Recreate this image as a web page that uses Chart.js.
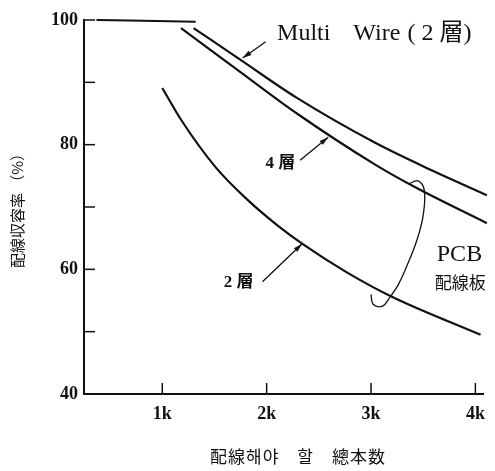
<!DOCTYPE html>
<html>
<head>
<meta charset="utf-8">
<script src="https://cdn.jsdelivr.net/npm/chart.js@4.4.1/dist/chart.umd.min.js"></script>
<style>
  body { margin: 0; background: #fff; }
</style>
</head>
<body>
<canvas id="c" width="495" height="471"></canvas>
<script>
// axis ticks (x in thousands of wires)
const xTicks = [1, 2, 3, 4];
const yTicks = [40, 50, 60, 70, 80, 90, 100];
const yTickLabels = ["40", "", "60", "", "80", "", "100"];

// flat 100% part
const flatX = [0.37, 1.32];
const flatY = [100, 99.7];
// Multi Wire (2層)
const multiX = [1.30, 1.75, 2.29, 3.04, 3.58, 4.11];
const multiY = [98.7, 93.6, 87.5, 80.3, 75.9, 71.9];
// PCB 4層
const l4X = [1.18, 1.72, 2.29, 3.04, 3.42, 4.11];
const l4Y = [98.7, 92.0, 85.0, 76.8, 73.2, 67.4];
// PCB 2層
const l2X = [1.00, 1.18, 1.51, 1.82, 2.10, 2.35, 2.76, 3.20, 4.05];
const l2Y = [89.1, 84.0, 76.4, 71.1, 67.1, 64.0, 59.6, 55.6, 49.5];
// bracket that groups the two PCB curves
const pcbX = [3.36, 3.45, 3.51, 3.50, 3.44, 3.34, 3.26, 3.18, 3.11, 3.02, 3.00];
const pcbY = [73.7, 74.2, 72.7, 68.7, 64.7, 60.4, 57.5, 55.5, 54.1, 54.4, 56.0];

// leader arrows: [fromX, fromY, toX, toY]
const arrowMulti = [1.99, 96.5, 1.77, 93.9];
const arrow4 = [2.32, 77.5, 2.59, 81.2];
const arrow2 = [1.96, 58.0, 2.34, 64.1];

const ink = "#111";
const serif = '"Liberation Serif", "Noto Sans CJK JP", serif';
const cjk = '"Noto Sans CJK JP", sans-serif';

const notes = [
  { text: "Multi", x: 2.10, y: 97.8, font: "24px " + serif },
  { text: "Wire", x: 2.83, y: 97.8, font: "24px " + serif },
  { text: "( 2 層)", x: 3.35, y: 97.8, font: "24px " + serif },
  { text: "4 層", x: 1.99, y: 77.0, font: "bold 17px " + serif },
  { text: "2 層", x: 1.59, y: 57.9, font: "bold 17px " + serif },
  { text: "PCB", x: 3.63, y: 62.3, font: "24px " + serif },
  { text: "配線板", x: 3.61, y: 57.8, font: "17px " + cjk }
];

function line(xs, ys, w, mode) {
  return {
    data: xs.map((x, i) => ({ x: x, y: ys[i] })),
    showLine: true,
    borderColor: ink,
    borderWidth: w,
    pointRadius: 0,
    fill: false,
    clip: false,
    tension: 0.4,
    cubicInterpolationMode: mode || "monotone"
  };
}

function arrowSet(a) {
  return line([a[0], a[2]], [a[1], a[3]], 1.3, "default");
}

const extras = {
  id: "extras",
  afterDraw(chart) {
    const ctx = chart.ctx, xs = chart.scales.x, ys = chart.scales.y;
    const area = chart.chartArea;
    ctx.save();
    ctx.strokeStyle = ink;
    ctx.fillStyle = ink;
    // inward tick marks
    ctx.lineWidth = 1.5;
    yTicks.forEach(v => {
      if (v === ys.min) return;
      const py = ys.getPixelForValue(v);
      ctx.beginPath();
      ctx.moveTo(area.left, py);
      ctx.lineTo(area.left + 11, py);
      ctx.stroke();
    });
    xTicks.forEach(v => {
      const px = xs.getPixelForValue(v);
      ctx.beginPath();
      ctx.moveTo(px, area.bottom);
      ctx.lineTo(px, area.bottom - 11);
      ctx.stroke();
    });
    // arrow heads
    [arrowMulti, arrow4, arrow2].forEach(a => {
      const x0 = xs.getPixelForValue(a[0]), y0 = ys.getPixelForValue(a[1]);
      const x1 = xs.getPixelForValue(a[2]), y1 = ys.getPixelForValue(a[3]);
      const ang = Math.atan2(y1 - y0, x1 - x0);
      ctx.beginPath();
      ctx.moveTo(x1, y1);
      ctx.lineTo(x1 - 9 * Math.cos(ang) + 2.5 * Math.sin(ang), y1 - 9 * Math.sin(ang) - 2.5 * Math.cos(ang));
      ctx.lineTo(x1 - 9 * Math.cos(ang) - 2.5 * Math.sin(ang), y1 - 9 * Math.sin(ang) + 2.5 * Math.cos(ang));
      ctx.closePath();
      ctx.fill();
    });
    // labels
    ctx.textBaseline = "middle";
    ctx.textAlign = "left";
    notes.forEach(n => {
      ctx.font = n.font;
      ctx.fillText(n.text, xs.getPixelForValue(n.x), ys.getPixelForValue(n.y));
    });
    // x axis title
    ctx.letterSpacing = "1px";
    ctx.font = "17px " + cjk;
    ctx.textAlign = "center";
    ctx.fillText("配線해야　할　總本数", 298, 457);
    ctx.restore();
  }
};

new Chart(document.getElementById("c"), {
  type: "scatter",
  data: {
    datasets: [
      line(flatX, flatY, 2),
      line(multiX, multiY, 2.2),
      line(l4X, l4Y, 2.2),
      line(l2X, l2Y, 2.2),
      line(pcbX, pcbY, 1.3, "default"),
      arrowSet(arrowMulti),
      arrowSet(arrow4),
      arrowSet(arrow2)
    ]
  },
  options: {
    responsive: false,
    animation: false,
    events: [],
    layout: { padding: { top: 20, right: 5, left: 0, bottom: 0 } },
    plugins: { legend: { display: false }, tooltip: { enabled: false } },
    scales: {
      x: {
        type: "linear",
        min: 0.25,
        max: 4.08,
        grid: { display: false, tickLength: 0 },
        border: { color: ink, width: 2 },
        afterBuildTicks: s => { s.ticks = xTicks.map(v => ({ value: v })); },
        afterFit: s => { s.height = 77; },
        ticks: {
          color: ink,
          padding: 10,
          font: { family: serif, size: 18, weight: "bold" },
          callback: v => v + "k"
        }
      },
      y: {
        min: 40,
        max: 100,
        grid: { display: false, tickLength: 0 },
        border: { color: ink, width: 2 },
        afterBuildTicks: s => { s.ticks = yTicks.map(v => ({ value: v })); },
        afterFit: s => { s.width = 84; },
        ticks: {
          color: ink,
          padding: 6,
          font: { family: serif, size: 18, weight: "bold" },
          callback: v => yTickLabels[yTicks.indexOf(v)]
        },
        title: {
          display: true,
          text: "配線収容率 （%）",
          color: ink,
          font: { family: cjk, size: 15 },
          padding: { top: 8, bottom: 0 }
        }
      }
    }
  },
  plugins: [extras]
});
</script>
</body>
</html>
